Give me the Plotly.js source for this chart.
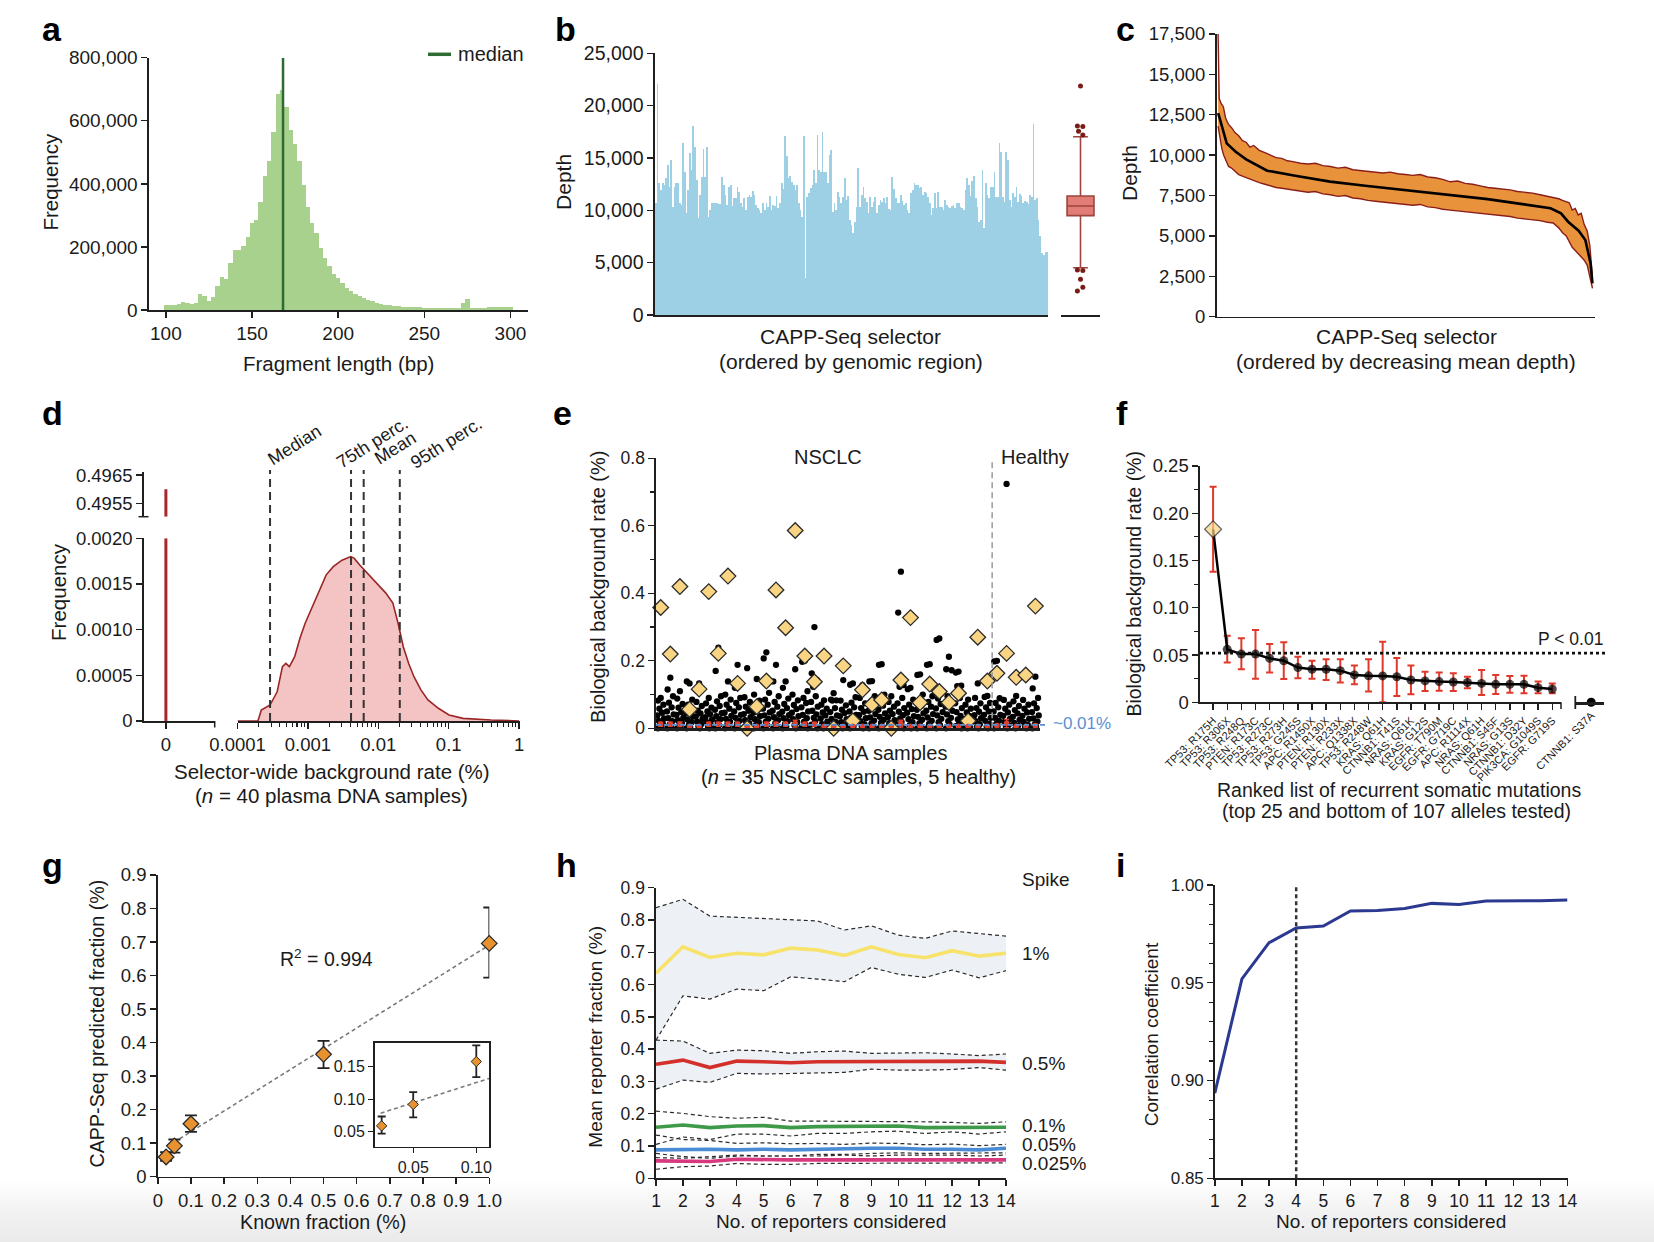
<!DOCTYPE html>
<html><head><meta charset="utf-8">
<script src="https://cdn.plot.ly/plotly-3.0.1.min.js"></script>
<style>
html,body{margin:0;padding:0;width:1654px;height:1242px;overflow:hidden;
background:linear-gradient(to bottom,#ffffff 0px,#ffffff 1180px,#f1f1f1 1215px,#eaeaea 1242px);}
#chart{width:1654px;height:1242px;}
</style></head><body><div id="chart"></div>
<script>
// ---------------- DATA ----------------
// a: fragment length histogram
const aBinCenters = [100,102.5,105,107.5,110,112.5,115,117.5,120,122.5,125,127.5,130,132.5,135,137.5,140,142.5,145,147.5,150,152.5,155,157.5,160,162.5,165,167.5,170,172.5,175,177.5,180,182.5,185,187.5,190,192.5,195,197.5,200,202.5,205,207.5,210,212.5,215,217.5,220,222.5,225,227.5,230,232.5,235,237.5,240,242.5,245,247.5,250,252.5,255,257.5,260,262.5,265,267.5,270,272.5,275,277.5,280,282.5,285,287.5,290,292.5,295,297.5,300];
const aCountsK = [16,15,16,20,26,22,20,22,50,45,30,42,75,105,97,148,190,190,203,233,277,285,344,425,473,566,686,698,645,571,527,471,397,326,277,243,196,164,138,114,100,87,70,60,52,45,38,32,27,23,20,17,15,13,12,11,10,9,8,8,7,7,7,6,6,6,6,6,6,21,35,5,5,6,7,8,9,10,10,11,10];
const aMedian = 168;

// b: depth along selector (thousands)
const bDepthK = [
10.67,22.07,12.58,11.94,12.58,12.42,13.06,14.33,12.26,14.81,
10.35,12.26,12.65,12.65,10.67,10.51,16.40,13.70,9.72,11.94,
15.45,13.86,18.06,16.09,12.90,9.24,11.47,13.16,15.83,13.22,
16.02,9.40,10.03,10.67,10.67,10.73,10.73,10.60,10.60,13.16,
12.42,11.47,10.51,12.26,12.42,10.42,11.15,11.15,12.26,11.79,
10.67,10.35,11.15,10.03,11.31,11.47,11.31,11.88,11.47,10.51,
10.26,10.03,9.72,10.67,10.03,10.67,10.35,11.37,10.03,10.51,
10.42,11.37,10.19,10.73,12.65,12.01,17.10,15.19,13.06,13.28,
12.74,12.42,11.94,12.42,10.67,10.03,9.40,17.14,3.50,11.31,
11.69,12.10,12.42,13.86,12.58,17.20,13.86,13.70,17.52,13.70,
13.70,12.58,15.29,15.77,
9.88,10.73,10.03,11.79,11.31,10.67,11.31,13.06,10.99,11.37,
9.08,8.60,7.81,8.92,10.35,14.02,10.35,11.47,12.20,11.15,
10.83,9.72,11.24,10.35,10.83,11.31,9.72,10.51,10.99,10.83,
11.15,10.67,11.31,10.10,10.03,13.16,12.01,11.15,10.73,10.67,
11.47,10.93,10.51,10.73,10.03,9.72,11.63,11.94,12.58,12.42,
12.42,12.10,12.20,11.47,11.79,11.63,11.31,10.67,9.56,10.19,
11.69,10.19,11.79,10.35,10.29,10.03,10.99,10.51,10.35,10.19,
10.42,10.51,10.19,10.73,10.73,10.35,10.19,10.03,11.94,13.06,
12.42,11.37,12.84,13.28,11.15,10.35,8.92,9.08,13.86,8.28,
12.58,11.47,11.15,12.26,12.26,13.70,11.31,11.31,16.47,15.61,
11.31,10.83,15.61,14.81,10.99,10.35,11.69,11.31,12.26,10.83,
11.6,11.4,10.7,10.9,10.8,10.6,11.5,11.3,18.2,11.0,11.2,9.1,7.5,5.9,5.7,6.0,6.0];
const bBoxQ1 = 9490, bBoxMedian = 10410, bBoxQ3 = 11370, bBoxLow = 4520, bBoxHigh = 17030;
const bOutliers = [21880,18050,18000,17550,17200,4300,4250,3410,2650,2290];

// c: depth ordered by decreasing mean (thousands)
const cUpX = [0,0.3,0.8,1.4,2.0,2.8,3.6,4.5,5.5,6.5,7.5,8.5,9.5,11,12.5,14,15.5,17,18.5,20,22,24,26,28,30,32,34,36,38,40,42,44,46,48,50,52,54,56,58,60,62,64,66,68,70,72,74,76,78,80,82,84,86,88,89.5,91,92,93,93.8,94.6,95.4,96.2,97,97.8,98.6,99.3,100];
const cUp = [17.5,13.5,13.2,13.0,12.3,11.9,11.7,11.4,11.2,10.9,10.8,10.5,10.6,10.3,10.15,10.0,9.85,9.8,9.65,9.6,9.5,9.45,9.5,9.35,9.3,9.2,9.25,9.1,9.05,9.0,8.95,8.9,8.95,8.85,8.8,8.75,8.8,8.65,8.6,8.5,8.35,8.4,8.25,8.2,8.1,8.0,7.95,7.9,7.85,7.75,7.7,7.65,7.55,7.45,7.4,7.3,7.2,7.1,7.05,6.6,6.7,6.3,6.4,5.7,5.3,4.4,2.4];
const cLoX = [0,0.5,1.0,1.5,2.0,2.8,3.6,4.5,5.5,6.5,7.5,8.5,9.5,11,12.5,14,15.5,17,18.5,20,22,24,26,28,30,32,34,36,38,40,42,44,46,48,50,52,54,56,58,60,62,64,66,68,70,72,74,76,78,80,82,84,86,88,89.5,91,92,93,93.8,94.6,95.4,96.2,97,97.8,98.6,99.3,100];
const cLo = [11.8,11.0,10.4,10.0,9.7,9.3,9.2,9.0,8.8,8.7,8.6,8.5,8.4,8.3,8.2,8.1,8.0,7.95,7.9,7.85,7.8,7.7,7.75,7.6,7.55,7.45,7.5,7.35,7.3,7.2,7.15,7.1,7.05,7.0,6.95,6.9,6.95,6.8,6.75,6.65,6.6,6.55,6.5,6.45,6.4,6.35,6.3,6.25,6.2,6.1,6.05,6.0,5.95,5.85,5.8,5.5,5.2,5.0,4.6,4.3,4.1,3.9,3.7,3.5,3.2,2.4,1.75];
const cMeanX = [0,0.3,2.3,4.7,7.5,13.1,20.6,29.9,39.3,48.6,53.3,62.6,72.0,81.3,88.8,91.6,93.5,96.3,98.1,99.5,100];
const cMean = [12.6,12.38,10.73,10.21,9.74,9.04,8.73,8.36,8.11,7.88,7.74,7.53,7.28,6.97,6.71,6.40,5.88,5.32,4.75,3.30,2.06];

// d: selector-wide background rate distribution
const dZeroFreq = 0.4960;
const dRate = [0.0001,0.000195,0.000218,0.00029,0.000366,0.000435,0.000486,0.000546,0.000649,0.000771,0.000914,0.00115,0.00145,0.00182,0.00229,0.00305,0.00406,0.00456,0.00541,0.00643,0.00809,0.01016,0.0128,0.0161,0.0191,0.0227,0.027,0.0321,0.0403,0.0507,0.0714,0.101,0.16,0.4,1];
const dFreq = [0,0,0.00012,0.000175,0.00032,0.000595,0.00063,0.000595,0.000704,0.000905,0.00107,0.00125,0.00143,0.0016,0.00169,0.00176,0.0018,0.00178,0.00171,0.00165,0.00156,0.00149,0.0014,0.00129,0.00107,0.00081,0.00063,0.000485,0.00034,0.00023,0.000139,0.000066,0.000029,0.000011,0];
const dMarkVals = [0.00029,0.0041,0.0062,0.0202];
const dMarkNames = ['Median','75th perc.','Mean','95th perc.'];

// e: per-sample biological background
const eDots = [
[0.09,0.082,0.07,0.058,0.046,0.038,0.029,0.022,0.015,0.008,0.003,0],
[0.15,0.115,0.095,0.076,0.062,0.05,0.041,0.03,0.021,0.011,0.004,0],
[0.11,0.088,0.072,0.061,0.048,0.04,0.031,0.024,0.016,0.009,0.003,0],
[0.133,0.139,0.085,0.07,0.055,0.045,0.035,0.026,0.018,0.01,0.004,0],
[0.133,0.078,0.066,0.052,0.044,0.035,0.028,0.02,0.012,0.006,0],
[0.09,0.074,0.061,0.05,0.042,0.033,0.026,0.018,0.01,0.004,0],
[0.239,0.17,0.095,0.08,0.066,0.055,0.045,0.036,0.027,0.018,0.009,0],
[0.139,0.1,0.085,0.07,0.058,0.046,0.037,0.028,0.02,0.012,0.005,0],
[0.188,0.12,0.09,0.075,0.062,0.05,0.04,0.031,0.022,0.013,0.005,0],
[0.178,0.092,0.078,0.064,0.052,0.042,0.033,0.024,0.015,0.007,0],
[0.146,0.1,0.082,0.068,0.056,0.046,0.036,0.027,0.018,0.01,0.004,0],
[0.225,0.207,0.105,0.085,0.07,0.058,0.047,0.038,0.028,0.019,0.01,0],
[0.188,0.139,0.095,0.078,0.064,0.052,0.042,0.033,0.024,0.015,0.006,0],
[0.139,0.12,0.088,0.072,0.06,0.049,0.039,0.03,0.021,0.012,0.005,0],
[0.175,0.1,0.083,0.069,0.057,0.046,0.036,0.027,0.018,0.009,0],
[0.2,0.197,0.11,0.09,0.075,0.062,0.05,0.04,0.03,0.02,0.011,0.004,0],
[0.3,0.163,0.143,0.123,0.095,0.078,0.064,0.052,0.041,0.031,0.021,0.011,0],
[0.083,0.07,0.058,0.047,0.038,0.029,0.02,0.012,0.005,0],
[0.104,0.085,0.083,0.082,0.06,0.048,0.038,0.028,0.019,0.01,0],
[0.143,0.082,0.068,0.055,0.045,0.036,0.027,0.018,0.009,0],
[0.133,0.129,0.092,0.076,0.062,0.05,0.04,0.031,0.022,0.013,0.005,0],
[0.128,0.09,0.074,0.06,0.049,0.039,0.03,0.021,0.012,0.005,0],
[0.14,0.139,0.095,0.078,0.064,0.052,0.042,0.032,0.023,0.014,0.006,0],
[0.19,0.188,0.1,0.082,0.067,0.055,0.044,0.034,0.025,0.016,0.007,0],
[0.095,0.078,0.064,0.052,0.042,0.033,0.024,0.015,0.007,0],
[0.464,0.343,0.128,0.123,0.09,0.074,0.06,0.049,0.039,0.029,0.019,0.01,0],
[0.12,0.116,0.085,0.07,0.057,0.046,0.036,0.027,0.018,0.009,0],
[0.16,0.158,0.1,0.082,0.067,0.055,0.044,0.034,0.025,0.015,0.006,0],
[0.19,0.188,0.095,0.078,0.064,0.052,0.042,0.032,0.022,0.013,0.005,0],
[0.266,0.262,0.111,0.088,0.072,0.059,0.048,0.038,0.028,0.018,0.009,0],
[0.212,0.175,0.172,0.095,0.078,0.064,0.052,0.041,0.031,0.021,0.011,0],
[0.168,0.165,0.126,0.125,0.09,0.074,0.06,0.048,0.037,0.026,0.015,0.006,0],
[0.085,0.07,0.058,0.047,0.037,0.028,0.019,0.01,0.004,0],
[0.133,0.09,0.074,0.06,0.049,0.039,0.03,0.021,0.012,0.005,0],
[0.096,0.093,0.075,0.062,0.05,0.04,0.031,0.022,0.013,0.005,0],
[0.2,0.198,0.089,0.075,0.062,0.05,0.04,0.031,0.022,0.013,0.005,0],
[0.724,0.084,0.07,0.058,0.047,0.037,0.028,0.019,0.01,0.004,0],
[0.096,0.08,0.066,0.054,0.044,0.034,0.025,0.016,0.008,0],
[0.153,0.084,0.07,0.058,0.047,0.037,0.028,0.019,0.01,0.004,0],
[0.153,0.118,0.09,0.074,0.06,0.048,0.038,0.029,0.02,0.011,0.004,0]];
const eTumor = [0.358,0.22,0.42,0.056,0.116,0.405,0.222,0.451,0.133,0,0.064,0.14,0.41,0.298,0.586,0.214,0.138,0.214,0,0.185,0.022,0.114,0.071,0.084,0,0.143,0.328,0.076,0.131,0.109,0.076,0.104,0.022,0.27,0.14,0.163,0.222,0.151,0.158,0.362];
const eMean = [0.012,0.012,0.012,0.006,0.006,0.012,0.012,0.012,0.012,0.005,0.006,0.012,0.012,0.012,0.014,0.012,0.012,0.006,0.005,0.006,0.006,0.006,0.006,0.006,0.006,0.014,0.006,0.006,0.006,0.006,0.006,0.006,0.006,0.006,0.006,0.008,0.014,0.006,0.006,0.008];
const eMeanErr = [0.006,0.006,0.007,0,0,0.006,0.006,0.006,0.006,0,0,0.006,0.006,0.006,0.01,0.006,0.006,0,0,0,0,0,0,0,0,0.01,0,0,0,0,0,0,0,0,0,0.004,0.012,0,0,0.004];
const eNoise = 0.01;
const eSplit = 35.5;

// f: ranked recurrent somatic mutations
const fLabels = ['TP53: R175H','TP53: R306X','TP53: R248Q','PTEN: R173C','TP53: R273C','TP53: R273H','TP53: G245S','APC: R1450X','PTEN: R130X','PTEN: R233X','APC: Q1338X','TP53: R248W','KRAS: Q61H','CTNNB1: T41S','NRAS: Q61K','KRAS: G12S','EGFR: T790M','EGFR: G719C','APC: R1114X','NRAS: Q61H','CTNNB1: S45F','NRAS: G13S','CTNNB1: D32Y','PIK3CA: G1049S','EGFR: G719S'];
const fVal = [0.183,0.056,0.051,0.051,0.0465,0.044,0.0367,0.035,0.035,0.0335,0.029,0.028,0.0279,0.027,0.0236,0.0226,0.0219,0.0215,0.021,0.02,0.019,0.019,0.019,0.0155,0.0141];
const fHi = [0.228,0.0705,0.0677,0.0765,0.0617,0.0635,0.0483,0.044,0.0455,0.0455,0.039,0.0455,0.064,0.047,0.039,0.0324,0.0314,0.0307,0.027,0.0342,0.029,0.0279,0.028,0.0219,0.02];
const fLo = [0.138,0.042,0.035,0.025,0.0314,0.0247,0.0254,0.025,0.0236,0.021,0.019,0.0113,0,0.0067,0.0085,0.012,0.0123,0.012,0.0148,0.0078,0.0088,0.0102,0.0095,0.0095,0.0095];
const fBottomLabel = 'CTNNB1: S37A';
const fBottomVal = 0;
const fThreshold = 0.052;

// g: spike-in dilution
const gKnown = [0.025,0.05,0.1,0.5,1.0];
const gPred = [0.059,0.092,0.158,0.365,0.696];
const gHi = [0.0735,0.111,0.183,0.405,0.803];
const gLo = [0.047,0.072,0.134,0.324,0.594];
const gFitX = [0.03,1.0];
const gFitY = [0.091,0.691];
const gInsetFitX = [0.0242,0.1103];
const gInsetFitY = [0.0786,0.1321];

// h: mean reporter fraction
const hN = [1,2,3,4,5,6,7,8,9,10,11,12,13,14];
const h1 = [0.635,0.717,0.684,0.697,0.692,0.713,0.707,0.69,0.717,0.693,0.683,0.705,0.688,0.697];
const h1Hi = [0.838,0.864,0.812,0.808,0.803,0.8,0.797,0.769,0.782,0.753,0.743,0.766,0.758,0.75];
const h1Lo = [0.428,0.565,0.555,0.586,0.581,0.624,0.617,0.609,0.653,0.632,0.622,0.645,0.621,0.643];
const h05 = [0.353,0.366,0.343,0.363,0.361,0.358,0.361,0.361,0.363,0.361,0.363,0.363,0.363,0.359];
const h05Hi = [0.428,0.425,0.387,0.397,0.395,0.387,0.392,0.394,0.387,0.387,0.389,0.385,0.38,0.385];
const h05Lo = [0.276,0.304,0.297,0.325,0.323,0.325,0.328,0.328,0.338,0.335,0.335,0.337,0.343,0.335];
const h01 = [0.158,0.165,0.157,0.162,0.163,0.157,0.16,0.16,0.162,0.162,0.157,0.158,0.157,0.158];
const h01Hi = [0.208,0.201,0.191,0.186,0.189,0.177,0.177,0.177,0.177,0.177,0.175,0.173,0.17,0.175];
const h01Lo = [0.105,0.128,0.12,0.137,0.137,0.131,0.139,0.139,0.144,0.146,0.139,0.144,0.137,0.144];
const h005 = [0.088,0.09,0.09,0.088,0.09,0.088,0.09,0.09,0.093,0.093,0.09,0.09,0.088,0.093];
const h005Hi = [0.134,0.12,0.117,0.108,0.11,0.107,0.108,0.105,0.109,0.108,0.104,0.106,0.101,0.105];
const h005Lo = [0.077,0.067,0.062,0.069,0.069,0.069,0.074,0.074,0.077,0.079,0.077,0.077,0.077,0.079];
const h0025 = [0.054,0.054,0.052,0.059,0.057,0.057,0.057,0.057,0.057,0.057,0.057,0.057,0.057,0.057];
const h0025Hi = [0.064,0.062,0.067,0.072,0.069,0.069,0.069,0.072,0.069,0.072,0.072,0.072,0.069,0.072];
const h0025Lo = [0.028,0.036,0.038,0.046,0.043,0.043,0.046,0.046,0.048,0.048,0.048,0.048,0.048,0.048];
const hSpikeLabels = ['1%','0.5%','0.1%','0.05%','0.025%'];

// i: correlation coefficient
const iN = [1,2,3,4,5,6,7,8,9,10,11,12,13,14];
const iR = [0.8935,0.952,0.9705,0.978,0.979,0.9867,0.987,0.988,0.9906,0.990,0.9918,0.9918,0.992,0.9923];
const iChosen = 4;

// ---------------- HELPERS ----------------
const W = 1654, H = 1242;
const F = 'Liberation Sans, Arial, Helvetica, sans-serif';
const X = (a,b) => [a/W, b/W];
const Y = (t,b) => [1-b/H, 1-t/H];
const PX = x => x/W, PY = y => 1-y/H;
const INK = '#1f1f1f';
const TXT = '#1a1a1a';
function ax(o, fs) {
  return Object.assign({showline:true, linecolor:INK, linewidth:1.6, ticks:'outside', ticklen:6, tickwidth:1.4,
    tickcolor:INK, showgrid:false, zeroline:false, fixedrange:true,
    tickfont:{family:F, size:fs||18, color:TXT}}, o);
}
const ann = [];
function txt(x, y, text, o) {
  o = o || {};
  ann.push({xref:'paper', yref:'paper', x:PX(x), y:PY(y), text:text, showarrow:false,
    xanchor:o.xa||'center', yanchor:o.ya||'middle', textangle:o.rot||0,
    font:{family:F, size:o.size||20, color:o.color||TXT}});
}
const traces = [];

// ---------------- a ----------------
traces.push({type:'bar', x:aBinCenters, y:aCountsK.map(v=>v*1000), width:2.5,
  marker:{color:'#A9D18E', line:{width:0}}, xaxis:'x', yaxis:'y'});
traces.push({type:'scatter', mode:'lines', x:[aMedian,aMedian], y:[0,800000],
  line:{color:'#2E6B30', width:2.5}, xaxis:'x', yaxis:'y'});

// ---------------- b ----------------
traces.push({type:'bar', x:bDepthK.map((v,i)=>i+1), y:bDepthK.map(v=>v*1000),
  marker:{color:'#9DD0E4', line:{width:0}}, xaxis:'x2', yaxis:'y2'});
traces.push({type:'box', x:[0], q1:[bBoxQ1], median:[bBoxMedian], q3:[bBoxQ3],
  lowerfence:[bBoxLow], upperfence:[bBoxHigh], width:1.38, whiskerwidth:0.55,
  fillcolor:'#E27C76', line:{color:'#9C443E', width:1.6}, boxpoints:false, xaxis:'x3', yaxis:'y3'});
const bOutX = [0,-0.16,0.12,-0.1,0.12,-0.16,0.12,0,0.12,-0.16];
traces.push({type:'scatter', mode:'markers', x:bOutX, y:bOutliers,
  marker:{color:'#7A1C17', size:5}, xaxis:'x3', yaxis:'y3', cliponaxis:false});

// ---------------- c ----------------
traces.push({type:'scatter', mode:'lines', x:cUpX.concat(cLoX.slice().reverse()),
  y:cUp.concat(cLo.slice().reverse()).map(v=>v*1000), fill:'toself', fillcolor:'#E8923B',
  line:{width:0}, xaxis:'x4', yaxis:'y4'});
traces.push({type:'scatter', mode:'lines', x:cUpX, y:cUp.map(v=>v*1000), line:{color:'#8B1E1A', width:1.4}, xaxis:'x4', yaxis:'y4'});
traces.push({type:'scatter', mode:'lines', x:cLoX, y:cLo.map(v=>v*1000), line:{color:'#8B1E1A', width:1.4}, xaxis:'x4', yaxis:'y4'});
traces.push({type:'scatter', mode:'lines', x:cMeanX, y:cMean.map(v=>v*1000), line:{color:'#000', width:2.6}, xaxis:'x4', yaxis:'y4'});

// ---------------- d ----------------
traces.push({type:'scatter', mode:'lines', x:[0,0], y:[0,0.002], line:{color:'#A5282A', width:3}, xaxis:'x5', yaxis:'y5'});
traces.push({type:'scatter', mode:'lines', x:[0,0], y:[0.49503,dZeroFreq], line:{color:'#A5282A', width:3}, xaxis:'x5', yaxis:'y6'});
traces.push({type:'scatter', mode:'lines', x:dRate, y:dFreq, fill:'tozeroy', fillcolor:'#F3C4C3',
  line:{color:'#9B2626', width:1.6}, xaxis:'x6', yaxis:'y5'});
dMarkVals.forEach(v => traces.push({type:'scatter', mode:'lines', x:[v,v], y:[0,1],
  line:{color:'#333', width:2, dash:'8px,5px'}, xaxis:'x6', yaxis:'y7'}));

// ---------------- e ----------------
const eJit = [0,-0.28,0.28,-0.14,0.14,-0.35,0.35,-0.21,0.21,-0.07,0.07,-0.3,0.3];
const eX = [], eY = [];
eDots.forEach((arr, s) => arr.forEach((v, j) => { eX.push(s + 1 + eJit[j % eJit.length]); eY.push(v); }));
traces.push({type:'scatter', mode:'markers', x:eX, y:eY, marker:{color:'#000', size:6.3},
  xaxis:'x7', yaxis:'y8', cliponaxis:false});
traces.push({type:'scatter', mode:'markers', x:eTumor.map((v,i)=>i+1), y:eTumor,
  marker:{symbol:'diamond', color:'#F9D583', size:12, line:{color:'#2a2a2a', width:1.3}},
  xaxis:'x7', yaxis:'y8', cliponaxis:false});
traces.push({type:'scatter', mode:'markers', x:eMean.map((v,i)=>i+1), y:eMean,
  marker:{color:'#E3402F', size:5.5},
  error_y:{type:'data', array:eMeanErr, color:'#E3402F', thickness:1.4, width:2.5},
  xaxis:'x7', yaxis:'y8', cliponaxis:false});

// ---------------- f ----------------
traces.push({type:'scatter', mode:'lines+markers', x:fVal.map((v,i)=>i+1), y:fVal,
  line:{color:'#000', width:2.5},
  marker:{symbol:fVal.map((v,i)=>i===0?'diamond':'circle'), color:fVal.map((v,i)=>i===0?'#F9D583':'#000'),
    size:fVal.map((v,i)=>i===0?13:9), line:{color:'#2a2a2a', width:fVal.map((v,i)=>i===0?1.3:0)}},
  error_y:{type:'data', symmetric:false, array:fHi.map((h,i)=>h-fVal[i]), arrayminus:fVal.map((v,i)=>v-fLo[i]),
    color:'#E0392B', thickness:2, width:3.5},
  xaxis:'x8', yaxis:'y9', cliponaxis:false});
traces.push({type:'scatter', mode:'markers', x:[26], y:[fBottomVal], marker:{color:'#000', size:9},
  xaxis:'x9', yaxis:'y9', cliponaxis:false});

// ---------------- g ----------------
const gErr = {type:'data', symmetric:false, array:gHi.map((h,i)=>h-gPred[i]), arrayminus:gPred.map((p,i)=>p-gLo[i]),
  color:'#222', thickness:1.8, width:6};
traces.push({type:'scatter', mode:'lines', x:gFitX, y:gFitY, line:{color:'#7a7a7a', width:1.6, dash:'4px,3px'}, xaxis:'x10', yaxis:'y10'});
traces.push({type:'scatter', mode:'markers', x:gKnown, y:gPred, error_y:gErr,
  marker:{symbol:'diamond', color:'#E8912F', size:12, line:{color:'#2a2a2a', width:1.3}},
  xaxis:'x10', yaxis:'y10', cliponaxis:false});
traces.push({type:'scatter', mode:'lines', x:gInsetFitX, y:gInsetFitY, line:{color:'#7a7a7a', width:1.6, dash:'4px,3px'}, xaxis:'x11', yaxis:'y11'});
traces.push({type:'scatter', mode:'markers', x:gKnown.slice(0,3), y:gPred.slice(0,3),
  error_y:Object.assign({}, gErr, {array:gErr.array.slice(0,3), arrayminus:gErr.arrayminus.slice(0,3), width:4}),
  marker:{symbol:'diamond', color:'#E8912F', size:8, line:{color:'#2a2a2a', width:1}},
  xaxis:'x11', yaxis:'y11', cliponaxis:false});

// ---------------- h ----------------
const dashB = {color:'#2b2b2b', width:1.2, dash:'4px,3px'};
const band = '#EDF0F4';
traces.push({type:'scatter', mode:'lines', x:hN, y:h1Lo, line:dashB, xaxis:'x12', yaxis:'y12'});
traces.push({type:'scatter', mode:'lines', x:hN, y:h1Hi, line:dashB, fill:'tonexty', fillcolor:band, xaxis:'x12', yaxis:'y12'});
traces.push({type:'scatter', mode:'lines', x:hN, y:h05Lo, line:dashB, xaxis:'x12', yaxis:'y12'});
traces.push({type:'scatter', mode:'lines', x:hN, y:h05Hi, line:dashB, fill:'tonexty', fillcolor:band, xaxis:'x12', yaxis:'y12'});
[h01Hi,h01Lo,h005Hi,h005Lo,h0025Hi,h0025Lo].forEach(arr =>
  traces.push({type:'scatter', mode:'lines', x:hN, y:arr, line:dashB, xaxis:'x12', yaxis:'y12'}));
[[h1,'#F7E36B'],[h05,'#D3302B'],[h01,'#3E9A48'],[h005,'#4A8BD6'],[h0025,'#D8387F']].forEach(p =>
  traces.push({type:'scatter', mode:'lines', x:hN, y:p[0], line:{color:p[1], width:3.6}, xaxis:'x12', yaxis:'y12'}));

// ---------------- i ----------------
traces.push({type:'scatter', mode:'lines', x:iN, y:iR, line:{color:'#2B3990', width:3}, xaxis:'x13', yaxis:'y13', cliponaxis:false});

// ---------------- AXES ----------------
const minorLog = [];
for (let d = -4; d < 0; d++) for (let m = 2; m <= 9; m++) minorLog.push(m * Math.pow(10, d));

const layout = {
  width:W, height:H, margin:{l:0,r:0,t:0,b:0}, autosize:false, showlegend:false,
  paper_bgcolor:'rgba(0,0,0,0)', plot_bgcolor:'rgba(0,0,0,0)', bargap:0,
  font:{family:F, size:18, color:TXT},
  // a
  xaxis: ax({domain:X(149,528), range:[90.2,310.2], anchor:'y', tickvals:[100,150,200,250,300]}, 19),
  yaxis: ax({domain:Y(57.7,310), range:[0,800000], anchor:'x', dtick:200000, tickformat:',.0f'}, 19),
  // b
  xaxis2: ax({domain:X(655,1048), range:[0.5, bDepthK.length+0.5], anchor:'y2', ticks:'', showticklabels:false}),
  yaxis2: ax({domain:Y(53.3,315), range:[0,25000], anchor:'x2', dtick:5000, tickformat:',.0f'}, 19.5),
  xaxis3: ax({domain:X(1061,1100), range:[-1,1], anchor:'y3', ticks:'', showticklabels:false}),
  yaxis3: {domain:Y(53.3,315), range:[0,25000], anchor:'x3', visible:false, fixedrange:true},
  // c
  xaxis4: ax({domain:X(1216.6,1594.7), range:[-0.4,100.6], anchor:'y4', ticks:'', showticklabels:false}),
  yaxis4: ax({domain:Y(34,316.7), range:[0,17500], anchor:'x4', dtick:2500, tickformat:',.0f'}, 18.5),
  // d
  xaxis5: ax({domain:X(143.8,214.7), range:[-0.502,1.109], anchor:'y5', tickvals:[0], ticktext:['0']}, 18.5),
  yaxis5: ax({domain:Y(538.3,721), range:[0,0.002], anchor:'x5', tickvals:[0,0.0005,0.001,0.0015,0.002],
    ticktext:['0','0.0005','0.0010','0.0015','0.0020']}, 18.5),
  yaxis6: ax({domain:Y(471.7,516.7), range:[0.49503,0.49662], anchor:'x5', tickvals:[0.4955,0.4965], ticktext:['0.4955','0.4965']}, 18.5),
  xaxis6: ax({domain:X(237.5,519.8), type:'log', range:[-4,0.01], anchor:'y5',
    tickvals:[0.0001,0.001,0.01,0.1,1], ticktext:['0.0001','0.001','0.01','0.1','1'],
    minor:{tickmode:'array', tickvals:minorLog, ticks:'outside', ticklen:4, tickwidth:1.1, tickcolor:INK}}, 18.5),
  yaxis7: {domain:Y(470,721), range:[0,1], anchor:'x6', visible:false, fixedrange:true},
  // e
  xaxis7: ax({domain:X(656,1040), range:[0.51,40.48], anchor:'y8', ticks:'', showticklabels:false, linewidth:2.2}),
  yaxis8: ax({domain:Y(458.3,728.3), range:[0,0.8], anchor:'x7', dtick:0.2,
    minor:{ticks:'outside', dtick:0.1, ticklen:4, tickwidth:1.1, tickcolor:INK}}, 17.5),
  // f
  xaxis8: ax({domain:X(1200,1561), range:[0.073,25.62], anchor:'y9', tickvals:fLabels.map((l,i)=>i+1), ticktext:fLabels,
    tickangle:-45}, 11),
  yaxis9: ax({domain:Y(466,702.3), range:[0,0.25], anchor:'x8', tickvals:[0,0.05,0.1,0.15,0.2,0.25],
    ticktext:['0','0.05','0.10','0.15','0.20','0.25'],
    minor:{ticks:'outside', dtick:0.025, ticklen:4, tickwidth:1.1, tickcolor:INK}}, 18.5),
  xaxis9: ax({domain:X(1575.3,1603.5), range:[24.875,26.87], anchor:'y9', tickvals:[26], ticktext:[fBottomLabel],
    ticks:'', tickangle:-45, linewidth:2.4}, 11),
  // g
  xaxis10: ax({domain:X(157.8,489.3), range:[0,1], anchor:'y10', tickvals:[0,0.1,0.2,0.3,0.4,0.5,0.6,0.7,0.8,0.9,1],
    ticktext:['0','0.1','0.2','0.3','0.4','0.5','0.6','0.7','0.8','0.9','1.0']}, 18.5),
  yaxis10: ax({domain:Y(875,1176.7), range:[0,0.9], anchor:'x10', dtick:0.1}, 18.5),
  xaxis11: ax({domain:X(374.6,489.3), range:[0.0194,0.1103], anchor:'y11', tickvals:[0.05,0.1], ticktext:['0.05','0.10'],
    mirror:true, ticklen:5}, 16),
  yaxis11: ax({domain:Y(1042.7,1146.7), range:[0.027,0.187], anchor:'x11', tickvals:[0.05,0.1,0.15], ticktext:['0.05','0.10','0.15'],
    mirror:true, ticklen:5}, 16),
  // h
  xaxis12: ax({domain:X(656,1006), range:[1,14], anchor:'y12', dtick:1}, 17.5),
  yaxis12: ax({domain:Y(887.7,1178.3), range:[0,0.9], anchor:'x12', dtick:0.1}, 17.5),
  // i
  xaxis13: ax({domain:X(1214.8,1567.5), range:[1,14], anchor:'y13', dtick:1}, 17.5),
  yaxis13: ax({domain:Y(885,1178.3), range:[0.85,1.0], anchor:'x13', tickvals:[0.85,0.9,0.95,1.0],
    ticktext:['0.85','0.90','0.95','1.00'],
    minor:{ticks:'outside', dtick:0.01, ticklen:4, tickwidth:1.1, tickcolor:INK}}, 17),
  shapes: [
    {type:'line', xref:'paper', yref:'paper', x0:PX(428), x1:PX(451), y0:PY(54.3), y1:PY(54.3), line:{color:'#2E6B30', width:3.5}},
    {type:'line', xref:'paper', yref:'paper', x0:PX(214.7), x1:PX(214.7), y0:PY(721), y1:PY(727.5), line:{color:INK, width:1.5}},
    {type:'line', xref:'paper', yref:'paper', x0:PX(138.5), x1:PX(148.5), y0:PY(516.7), y1:PY(516.7), line:{color:INK, width:1.5}},
    {type:'line', xref:'x7', yref:'y8', x0:eSplit, x1:eSplit, y0:0, y1:0.8, line:{color:'#9a9a9a', width:1.5, dash:'6px,4px'}},
    {type:'line', xref:'paper', yref:'y8', x0:PX(656), x1:PX(1047), y0:eNoise, y1:eNoise, line:{color:'#5B8FD0', width:1.6, dash:'5px,3px'}},
    {type:'line', xref:'paper', yref:'y9', x0:PX(1200), x1:PX(1606), y0:fThreshold, y1:fThreshold, line:{color:'#111', width:2.6, dash:'dot'}},
    {type:'line', xref:'paper', yref:'paper', x0:PX(1561), x1:PX(1561), y0:PY(702.3), y1:PY(709), line:{color:INK, width:1.5}},
    {type:'line', xref:'paper', yref:'paper', x0:PX(1575.3), x1:PX(1575.3), y0:PY(696), y1:PY(709), line:{color:INK, width:1.8}},
    {type:'line', xref:'x13', yref:'y13', x0:iChosen, x1:iChosen, y0:0.85, y1:1.0, line:{color:'#333', width:2.5, dash:'4px,3px'}}
  ],
  annotations: ann
};

// ---------------- TEXT ----------------
[['a',40,29],['b',552.5,29],['c',1114,29],['d',40,413],['e',550.7,413],['f',1114,413],['g',40,865],['h',554,865],['i',1114,865]]
  .forEach(p => txt(p[1], p[2], '<b>'+p[0]+'</b>', {xa:'left', size:34, color:'#000'}));
// a
txt(456, 54, 'median', {xa:'left', size:20});
txt(338.5, 363.3, 'Fragment length (bp)', {size:20.5});
txt(50.9, 181.7, 'Frequency', {rot:-90, size:20.5});
// b
txt(850.7, 336.7, 'CAPP-Seq selector', {size:21});
txt(850.7, 361.7, '(ordered by genomic region)', {size:21});
txt(563.2, 181.7, 'Depth', {rot:-90, size:21});
// c
txt(1406.4, 336.7, 'CAPP-Seq selector', {size:21});
txt(1406.4, 361.7, '(ordered by decreasing mean depth)', {size:21});
txt(1130, 173, 'Depth', {rot:-90, size:21});
// d
txt(332, 771.7, 'Selector-wide background rate (%)', {size:20.5});
txt(331.5, 795, '(<i>n</i> = 40 plasma DNA samples)', {size:20.5});
txt(57.9, 592, 'Frequency', {rot:-90, size:20.5});
const dLabPos = [[294.6,445],[371.8,442.5],[395.3,448.3],[446.2,442.5]];
dMarkNames.forEach((n,k) => txt(dLabPos[k][0], dLabPos[k][1], n, {rot:-32, size:18}));
// e
txt(828.4, 456.7, 'NSCLC', {size:20});
txt(1034.6, 456.7, 'Healthy', {size:20});
txt(1050.7, 723.3, '~0.01%', {xa:'left', size:17, color:'#5B8FD0'});
txt(850.7, 753.3, 'Plasma DNA samples', {size:20});
txt(858.6, 776.7, '(<i>n</i> = 35 NSCLC samples, 5 healthy)', {size:20});
txt(597.9, 587, 'Biological background rate (%)', {rot:-90, size:20});
// f
txt(1605.3, 639.3, 'P < 0.01', {xa:'right', size:17.5});
txt(1398.6, 790, 'Ranked list of recurrent somatic mutations', {size:19.5});
txt(1396.8, 810.7, '(top 25 and bottom of 107 alleles tested)', {size:19.5});
txt(1133.6, 584, 'Biological background rate (%)', {rot:-90, size:19.5});
// g
txt(326.5, 958.3, 'R<sup>2</sup> = 0.994', {size:19.5});
txt(323.4, 1221.7, 'Known fraction (%)', {size:19.7});
txt(96.5, 1024, 'CAPP-Seq predicted fraction (%)', {rot:-90, size:19.7});
// h
txt(1020.4, 879.3, 'Spike', {xa:'left', size:19});
const hLabY = [953.3,1063.3,1125,1144.3,1163.3];
hSpikeLabels.forEach((l,k) => txt(1020.4, hLabY[k], l, {xa:'left', size:19}));
txt(831.1, 1221.7, 'No. of reporters considered', {size:19});
txt(596, 1036.7, 'Mean reporter fraction (%)', {rot:-90, size:19});
// i
txt(1390.5, 1221.7, 'No. of reporters considered', {size:19});
txt(1151.2, 1034, 'Correlation coefficient', {rot:-90, size:19});

Plotly.newPlot('chart', traces, layout, {displayModeBar:false, staticPlot:true});
</script></body></html>
